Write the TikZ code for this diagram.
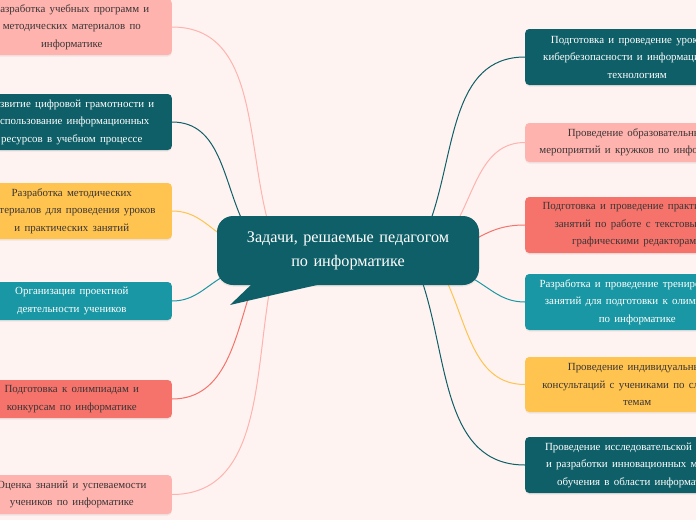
\documentclass[tikz,border=0pt]{standalone}
\usepackage{fontspec}
\setmainfont{Liberation Serif}
\usepackage{tikz}
\usetikzlibrary{shadows}
\definecolor{bg}{HTML}{FEF3F1}
\definecolor{rosa}{HTML}{FFB3AE}
\definecolor{petrol}{HTML}{0F5F68}
\definecolor{gelb}{HTML}{FFC34F}
\definecolor{tuerkis}{HTML}{1A97A4}
\definecolor{koralle}{HTML}{F5736B}
\definecolor{dunkel}{HTML}{3A3535}
\newcommand{\boxfont}{\fontsize{10.9}{17.5}\selectfont\spaceskip 4.3pt plus 1pt\relax}
\newcommand{\mittefont}{\fontsize{16.2}{24}\selectfont\spaceskip 5.5pt plus 1pt\relax}

\begin{document}
\begin{tikzpicture}[x=1pt,y=-1pt]
\tikzstyle{box} =[rectangle, rounded corners=4pt, align=center, inner sep=0pt, font=\boxfont, drop shadow={opacity=0.12,shadow xshift=0pt,shadow yshift=-1.5pt}]
\tikzstyle{lbox} =[box, minimum width=200pt, anchor=east]
\tikzstyle{rbox} =[box, minimum width=224pt, anchor=west]
\tikzstyle{hell} =[text=dunkel]
\tikzstyle{weiss} =[text=white]
\tikzstyle{ast} =[line width=1pt]
\useasboundingbox (0,0) rectangle (696,520);
\fill[bg] (0,0) rectangle (696,520);
% left side
\node[lbox,hell,fill=rosa,minimum height=56pt](l1) at (172,27){Разработка учебных программ и\\методических материалов по\\информатике};
\node[lbox,weiss,fill=petrol,minimum height=56pt](l2) at (172,122){Развитие цифровой грамотности и\\использование информационных\\ресурсов в учебном процессе};
\node[lbox,hell,fill=gelb,minimum height=56pt](l3) at (172,211){Разработка методических\\материалов для проведения уроков\\и практических занятий};
\node[lbox,weiss,fill=tuerkis,minimum height=38pt](l4) at (172,301){Организация проектной\\деятельности учеников};
\node[lbox,hell,fill=koralle,minimum height=38pt](l5) at (172,399){Подготовка к олимпиадам и\\конкурсам по информатике};
\node[lbox,hell,fill=rosa,minimum height=39pt](l6) at (172,494.5){Оценка знаний и успеваемости\\учеников по информатике};
% right side
\node[rbox,weiss,fill=petrol,minimum height=56pt](r1) at (525,57){Подготовка и проведение уроков по\\кибербезопасности и информационным\\технологиям};
\node[rbox,hell,fill=rosa,minimum height=39pt](r2) at (525,142.5){Проведение образовательных\\мероприятий и кружков по информатике};
\node[rbox,hell,fill=koralle,minimum height=56pt](r3) at (525,225){Подготовка и проведение практических\\занятий по работе с текстовыми и\\графическими редакторами};
\node[rbox,weiss,fill=tuerkis,minimum height=56pt](r4) at (525,302){Разработка и проведение тренировочных\\занятий для подготовки к олимпиадам\\по информатике};
\node[rbox,hell,fill=gelb,minimum height=55pt](r5) at (525,384.5){Проведение индивидуальных\\консультаций с учениками по сложным\\темам};
\node[rbox,weiss,fill=petrol,minimum height=56pt](r6) at (525,465){Проведение исследовательской работы\\и разработки инновационных методов\\обучения в области информатики};
% ends at the centre
\coordinate (a1) at (268,222);
\coordinate (a2) at (243,222);
\coordinate (a3) at (224,237);
\coordinate (a4) at (224,276);
\coordinate (a5) at (252,286);
\coordinate (a6) at (270,288);
\coordinate (b1) at (430,222);
\coordinate (b2) at (457,222);
\coordinate (b3) at (472,241);
\coordinate (b4) at (472,278);
\coordinate (b5) at (448,284);
\coordinate (b6) at (423,284);
\draw [ast,rosa] (l1.east) to [out=0,in=105] (a1);
\draw [ast,petrol] (l2.east) to [out=0,in=115] (a2);
\draw [ast,gelb] (l3.east) to [out=0,in=145] (a3);
\draw [ast,tuerkis] (l4.east) to [out=0,in=210] (a4);
\draw [ast,koralle] (l5.east) to [out=0,in=252] (a5);
\draw [ast,rosa] (l6.east) to [out=0,in=260] (a6);
\draw [ast,petrol] (r1.west) to [out=180,in=70] (b1);
\draw [ast,rosa] (r2.west) to [out=180,in=62] (b2);
\draw [ast,koralle] (r3.west) to [out=180,in=30] (b3);
\draw [ast,tuerkis] (r4.west) to [out=180,in=330] (b4);
\draw [ast,gelb] (r5.west) to [out=180,in=294] (b5);
\draw [ast,petrol] (r6.west) to [out=180,in=288] (b6);
% central callout
\node[fill=petrol,text=white,rounded corners=16pt,minimum width=262pt,minimum height=69pt,align=center,font=\mittefont,drop shadow={opacity=0.15,shadow xshift=0pt,shadow yshift=-1.5pt}](c) at (348,250.5){Задачи, решаемые педагогом\\по информатике};
\fill[petrol] (254,282) -- (230,305) .. controls (268,296) and (295,290) .. (326,283) -- cycle;
\end{tikzpicture}
\end{document}
